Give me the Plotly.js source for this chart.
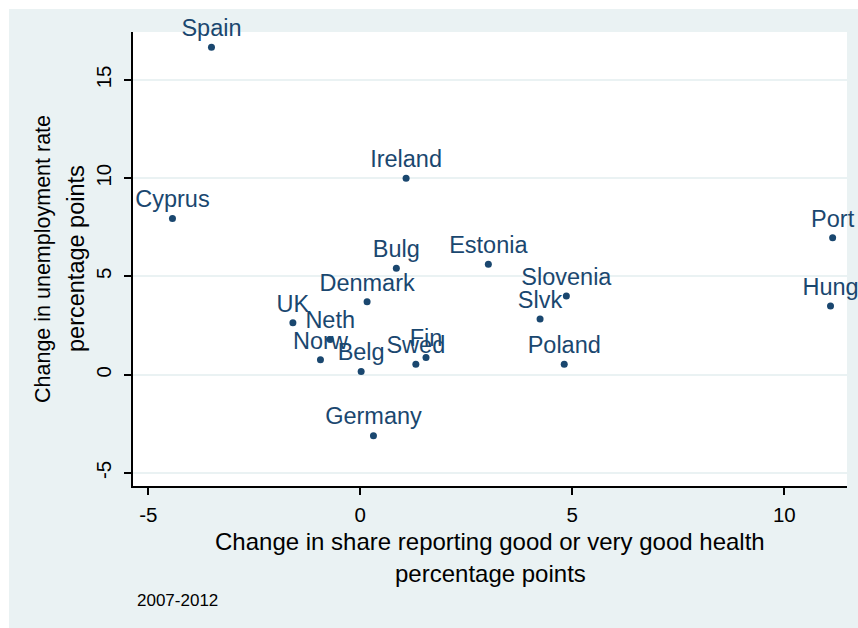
<!DOCTYPE html>
<html>
<head>
<meta charset="utf-8">
<script src="https://cdn.plot.ly/plotly-3.0.1.min.js"></script>
<style>
  html, body { margin: 0; padding: 0; background: #ffffff; width: 858px; height: 628px; overflow: hidden; }
  #chart { position: absolute; left: 9px; top: 9px; width: 849px; height: 619px; }
</style>
</head>
<body>
<div id="chart"></div>
<script>
// Data (2007-2012, percentage points)
const countries = ["Spain", "Cyprus", "Ireland", "Port", "Hung", "Estonia", "Slovenia", "Slvk", "Poland",
                   "Bulg", "Denmark", "UK", "Neth", "Norw", "Belg", "Swed", "Fin", "Germany"];
const healthChange = [-3.51, -4.43, 1.08, 11.14, 11.09, 3.02, 4.86, 4.24, 4.81,
                      0.85, 0.16, -1.59, -0.71, -0.94, 0.02, 1.31, 1.55, 0.31];
const unempChange = [16.67, 7.95, 10.0, 6.97, 3.50, 5.62, 4.01, 2.84, 0.54,
                     5.42, 3.71, 2.64, 1.79, 0.76, 0.17, 0.54, 0.88, -3.10];
const xTicks = [-5, 0, 5, 10];
const yTicks = [-5, 0, 5, 10, 15];
const xTitleLines = ["Change in share reporting good or very good health", "percentage points"];
const yTitleLines = ["Change in unemployment rate", "percentage points"];
const noteText = "2007-2012";

const navy = "#1a476f";
const bg = "#eaf2f3";
const fontFam = "Liberation Sans, Arial, sans-serif";

const trace = {
  type: "scatter",
  mode: "markers+text",
  x: healthChange,
  y: unempChange,
  text: countries,
  textposition: "top center",
  textfont: { family: fontFam, size: 23.5, color: navy },
  marker: { color: navy, size: 7 },
  hoverinfo: "x+y+text",
  cliponaxis: false
};

const layout = {
  width: 849,
  height: 619,
  paper_bgcolor: bg,
  plot_bgcolor: "#ffffff",
  margin: { l: 124, r: 11, t: 23, b: 142 },
  showlegend: false,
  font: { family: fontFam, color: "#000000" },
  xaxis: {
    range: [-5.361, 11.479],
    tickvals: xTicks,
    ticktext: xTicks.map(String),
    showgrid: false,
    zeroline: false,
    showline: true,
    linecolor: "#000000",
    linewidth: 2,
    ticks: "outside",
    ticklen: 7,
    tickwidth: 1.5,
    tickcolor: "#000000",
    ticklabelstandoff: 2,
    tickfont: { family: fontFam, size: 20.5, color: "#000000" },
    fixedrange: true
  },
  yaxis: {
    range: [-5.66, 17.44],
    tickvals: yTicks,
    ticktext: yTicks.map(String),
    tickangle: -90,
    showgrid: true,
    gridcolor: bg,
    gridwidth: 1.5,
    zeroline: false,
    showline: true,
    linecolor: "#000000",
    linewidth: 2,
    ticks: "outside",
    ticklen: 7,
    tickwidth: 1.5,
    tickcolor: "#000000",
    ticklabelstandoff: 5,
    tickfont: { family: fontFam, size: 20.5, color: "#000000" },
    fixedrange: true
  },
  annotations: [
    { text: xTitleLines[0], xref: "paper", yref: "paper", x: 0.5, y: 0, xanchor: "center", yanchor: "middle",
      yshift: -55, showarrow: false, font: { family: fontFam, size: 24, color: "#000000" } },
    { text: xTitleLines[1], xref: "paper", yref: "paper", x: 0.5, y: 0, xanchor: "center", yanchor: "middle",
      yshift: -87, showarrow: false, font: { family: fontFam, size: 24, color: "#000000" } },
    { text: yTitleLines[0], xref: "paper", yref: "paper", x: 0, y: 0.5, xanchor: "center", yanchor: "middle",
      xshift: -90, textangle: -90, showarrow: false, font: { family: fontFam, size: 21.5, color: "#000000" } },
    { text: yTitleLines[1], xref: "paper", yref: "paper", x: 0, y: 0.5, xanchor: "center", yanchor: "middle",
      xshift: -57, textangle: -90, showarrow: false, font: { family: fontFam, size: 23.5, color: "#000000" } },
    { text: noteText, xref: "paper", yref: "paper", x: 0, y: 0, xanchor: "left", yanchor: "middle",
      xshift: 2, yshift: -114, showarrow: false, font: { family: fontFam, size: 17, color: "#000000" } }
  ]
};

Plotly.newPlot("chart", [trace], layout, { displayModeBar: false });
</script>
</body>
</html>
